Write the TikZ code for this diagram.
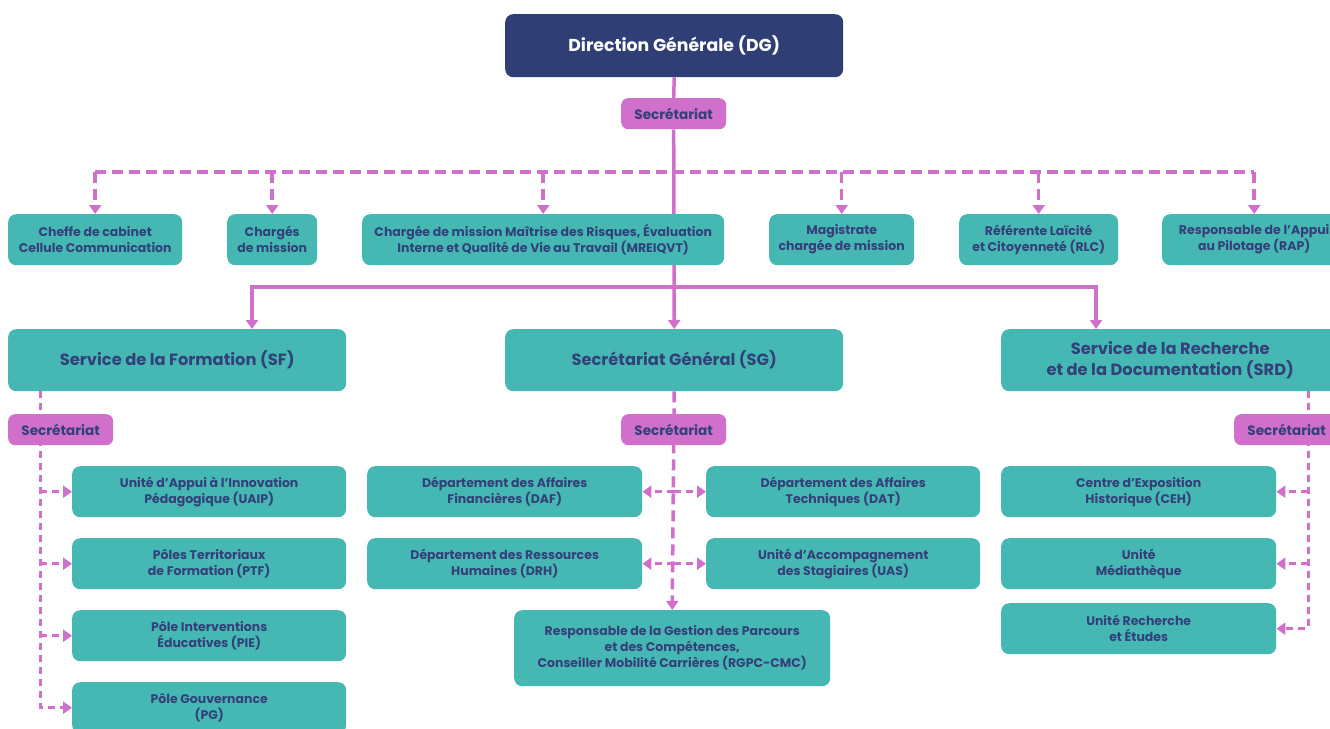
\documentclass[tikz,border=0pt]{standalone}
\usepackage{fontspec}
\setmainfont{Poppins}
\usetikzlibrary{arrows.meta,calc}
\definecolor{navyc}{HTML}{2F3E75}
\definecolor{tealc}{HTML}{45B8B4}
\definecolor{pinkc}{HTML}{D070CA}
\definecolor{txtc}{HTML}{33407A}
\pgfdeclarelayer{back}
\pgfdeclarelayer{under}
\pgfdeclarelayer{bg}
\pgfdeclarelayer{fg}
\pgfsetlayers{back,under,bg,main,fg}
\tikzset{
  tbox/.style={fill=tealc, rounded corners=8pt, text=txtc, align=center,
    font=\bfseries\fontsize{12.5}{16}\selectfont, inner sep=0pt, anchor=north west},
  bigbox/.style={tbox, font=\bfseries\fontsize{16.3}{21}\selectfont},
  secbox/.style={fill=pinkc, rounded corners=7pt, text=txtc,
    font=\bfseries\fontsize{13.6}{16}\selectfont, minimum width=105, minimum height=31,
    anchor=north west, inner sep=0pt},
  sol/.style={draw=pinkc, line width=3.5pt},
  dsh/.style={draw=pinkc, line width=3.5pt, dash pattern=on 11pt off 6pt},
  dshs/.style={draw=pinkc, line width=3pt, dash pattern=on 7pt off 5pt},
  arr/.style={-{Triangle[length=9pt,width=12pt]}}
}
\begin{document}
\begin{tikzpicture}[x=1pt,y=-1pt]
\clip (0,0) rectangle (1330,728);
\begin{pgfonlayer}{back}
\fill[white] (0,0) rectangle (1330,728);
\end{pgfonlayer}
\begin{pgfonlayer}{bg}
\node[tbox, fill=navyc, text=white, font=\bfseries\fontsize{17.3}{21}\selectfont,
  minimum width=338, minimum height=63] (dg) at (505,14) {Direction Générale (DG)};
% row 1
\node[tbox, minimum width=174, minimum height=51] (cab) at (8,214) {Cheffe de cabinet\\Cellule Communication};
\node[tbox, minimum width=90, minimum height=51] (charg) at (227,214) {Chargés\\de mission};
\node[tbox, minimum width=362, minimum height=51] (mre) at (362,214) {Chargée de mission Maîtrise des Risques, Évaluation\\Interne et Qualité de Vie au Travail (MREIQVT)};
\node[tbox, minimum width=145, minimum height=51] (mag) at (769,214) {Magistrate\\chargée de mission};
\node[tbox, minimum width=159, minimum height=51] (rlc) at (959,214) {Référente Laïcité\\et Citoyenneté (RLC)};
\node[tbox, minimum width=184, minimum height=51] (rap) at (1162,214) {Responsable de l’Appui\\au Pilotage (RAP)};
% row 2
\node[bigbox, minimum width=338, minimum height=62] (sf) at (8,329) {Service de la Formation (SF)};
\node[bigbox, minimum width=338, minimum height=62] (sg) at (505,329) {Secrétariat Général (SG)};
\node[bigbox, minimum width=338, minimum height=62] (srd) at (1001,329) {Service de la Recherche\\et de la Documentation (SRD)};
% left column
\node[tbox, minimum width=274, minimum height=51] (uaip) at (72,466) {Unité d’Appui à l’Innovation\\Pédagogique (UAIP)};
\node[tbox, minimum width=274, minimum height=51] (ptf) at (72,538) {Pôles Territoriaux\\de Formation (PTF)};
\node[tbox, minimum width=274, minimum height=51] (pie) at (72,610) {Pôle Interventions\\Éducatives (PIE)};
\node[tbox, minimum width=274, minimum height=51] (pg) at (72,682) {Pôle Gouvernance\\(PG)};
% middle column
\node[tbox, minimum width=275, minimum height=51] (daf) at (367,466) {Département des Affaires\\Financières (DAF)};
\node[tbox, minimum width=274, minimum height=51] (dat) at (706,466) {Département des Affaires\\Techniques (DAT)};
\node[tbox, minimum width=275, minimum height=51] (drh) at (367,538) {Département des Ressources\\Humaines (DRH)};
\node[tbox, minimum width=274, minimum height=51] (uas) at (706,538) {Unité d’Accompagnement\\des Stagiaires (UAS)};
\node[tbox, minimum width=316, minimum height=76] (rgpc) at (514,610) {Responsable de la Gestion des Parcours\\et des Compétences,\\Conseiller Mobilité Carrières (RGPC-CMC)};
% right column
\node[tbox, minimum width=275, minimum height=51] (ceh) at (1001,466) {Centre d’Exposition\\Historique (CEH)};
\node[tbox, minimum width=275, minimum height=51] (med) at (1001,538) {Unité\\Médiathèque};
\node[tbox, minimum width=275, minimum height=51] (urech) at (1001,603) {Unité Recherche\\et Études};
\end{pgfonlayer}
\begin{pgfonlayer}{fg}
\node[secbox] (sec0) at (621,98) {Secrétariat};
\node[secbox] (secf) at (8,414) {Secrétariat};
\node[secbox] (secg) at (621,414) {Secrétariat};
\node[secbox] (secr) at (1234,414) {Secrétariat};
\end{pgfonlayer}
% coordinates
\coordinate (hl) at (0,172);
\coordinate (hs) at (0,287);
\coordinate (sfin) at (252,329);
\coordinate (srdin) at (1096,329);
\coordinate (lx) at (40,0);
\coordinate (rx) at (1308,0);
% dashed top
\begin{pgfonlayer}{under}
\draw[dsh] (cab.north |- hl) -- (rap.north |- hl);
\draw[sol] (dg.south) -- (sec0.north);
\draw[sol,arr] (sec0.south) -- (sg.north);
\end{pgfonlayer}
\foreach \n in {cab,charg,mre,mag,rlc,rap}
  \draw[dsh,arr] (\n.north |- hl) -- (\n.north);
% solid
\draw[sol,arr] (sg.north |- hs) -| (sfin);
\draw[sol,arr] (sg.north |- hs) -| (srdin);
% left column
\draw[dshs,arr] (sf.south -| lx) |- (pg.west);
\foreach \n in {uaip,ptf,pie}
  \draw[dshs,arr] (lx |- \n.west) -- (\n.west);
% middle column
\draw[dsh,arr] (sg.south) -- (rgpc.north);
\foreach \n in {daf,drh}
  \draw[dshs,arr] (sg.south |- \n.east) -- (\n.east);
\foreach \n in {dat,uas}
  \draw[dshs,arr] (sg.south |- \n.west) -- (\n.west);
% right column
\draw[dshs,arr] (srd.south -| rx) |- (urech.east);
\foreach \n in {ceh,med}
  \draw[dshs,arr] (rx |- \n.east) -- (\n.east);
\end{tikzpicture}
\end{document}
